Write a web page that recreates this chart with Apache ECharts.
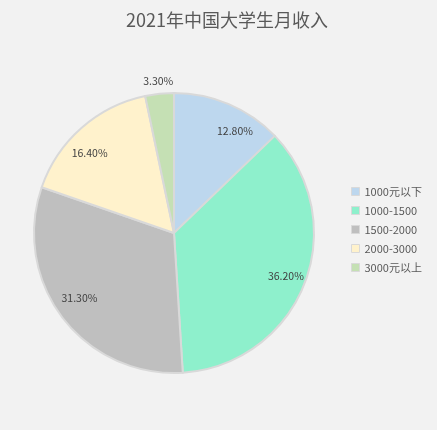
<!DOCTYPE html>
<html lang="zh">
<head>
    <meta charset="UTF-8">
    <title>2021年中国大学生月收入</title>
    <script src="https://cdn.jsdelivr.net/npm/echarts@6/dist/echarts.min.js"></script>
    <style>
        html, body { margin: 0; padding: 0; height: 100%; overflow: hidden; background: #f2f2f2; }
        #main { width: 437px; height: 430px; }
    </style>
</head>
<body>
    <div id="main"></div>
    <script>
        // data
        var categories = ['1000元以下', '1000-1500', '1500-2000', '2000-3000', '3000元以上'];
        var percents = [12.8, 36.2, 31.3, 16.4, 3.3];
        var colors = ['#bdd7ee', '#8ef0cc', '#bfbfbf', '#fff2cc', '#c5e0b4'];

        var fontFam = '"Noto Sans CJK SC", "Open Sans", sans-serif';
        var pieCenter = [174, 233];
        var smallIdx = categories.length - 1; // 3000元以上, label sits outside
        // small nudges so labels sit like the original (excel style "inside end")
        var labelNudge = { 0: [14, 8], 2: [1, -8], 3: [-5, 10] };

        var sliceData = categories.map(function (name, i) {
            return { name: name, value: percents[i], itemStyle: { color: colors[i] } };
        });
        // inner labels ring
        var labelData = categories.map(function (name, i) {
            var item = { name: name, value: percents[i] };
            if (i === smallIdx) item.label = { show: false };
            else if (labelNudge[i]) item.label = { offset: labelNudge[i] };
            return item;
        });
        // outer ring only for the small slice
        var outerData = categories.map(function (name, i) {
            return { name: name, value: percents[i], label: { show: i === smallIdx } };
        });

        function pctText(p) { return p.value.toFixed(2) + '%'; }
        var labelStyle = {
            show: true,
            position: 'inside',
            formatter: pctText,
            color: '#404040',
            fontSize: 10.5,
            fontFamily: fontFam
        };

        var chart = echarts.init(document.getElementById('main'));
        chart.setOption({
            backgroundColor: '#f2f2f2',
            title: {
                text: '2021年中国大学生月收入',
                left: 121,
                top: 6,
                textStyle: { color: '#595959', fontSize: 18, fontWeight: 'normal', fontFamily: fontFam }
            },
            legend: {
                orient: 'vertical',
                left: 346,
                top: 181,
                data: categories,
                icon: 'rect',
                itemWidth: 8,
                itemHeight: 8,
                itemGap: 8,
                textStyle: { color: '#595959', fontSize: 11, fontFamily: fontFam },
                itemStyle: { borderColor: '#d9d9d9', borderWidth: 1 }
            },
            series: [{
                name: '月收入',
                type: 'pie',
                center: pieCenter,
                radius: [0, 140],
                startAngle: 90,
                clockwise: true,
                label: { show: false },
                labelLine: { show: false },
                itemStyle: { borderColor: '#d9d9d9', borderWidth: 2 },
                emphasis: { disabled: true },
                data: sliceData
            }, {
                name: '标签',
                type: 'pie',
                center: pieCenter,
                radius: [94, 140],
                startAngle: 90,
                clockwise: true,
                silent: true,
                legendHoverLink: false,
                itemStyle: { color: 'rgba(0,0,0,0)', borderWidth: 0 },
                label: labelStyle,
                labelLine: { show: false },
                emphasis: { disabled: true },
                data: labelData
            }, {
                name: '外标签',
                type: 'pie',
                center: pieCenter,
                radius: [141, 159],
                startAngle: 90,
                clockwise: true,
                silent: true,
                legendHoverLink: false,
                itemStyle: { color: 'rgba(0,0,0,0)', borderWidth: 0 },
                label: labelStyle,
                labelLine: { show: false },
                emphasis: { disabled: true },
                data: outerData
            }]
        });
    </script>
</body>
</html>
